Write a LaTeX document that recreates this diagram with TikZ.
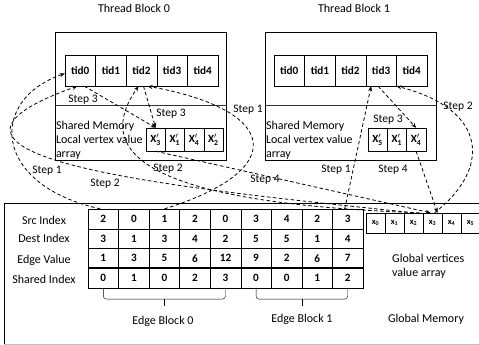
\documentclass[tikz,border=0pt]{standalone}
\usepackage{amsmath}
\usepackage{fontspec}
\setmainfont{Carlito}
\usetikzlibrary{arrows.meta,positioning,calc}

\newcommand{\lv}[1]{$\textbf{X}^{\prime}_{\textbf{#1}}$}

\begin{document}
\begin{tikzpicture}[x=1pt,y=-1pt,
    cell/.style={draw,minimum width=30.6pt,minimum height=31pt,inner sep=0pt,font=\fontsize{11.2}{13}\selectfont\bfseries},
    ecell/.style={draw,minimum width=30.55pt,minimum height=19.7pt,inner sep=0pt,font=\fontsize{11.2}{13}\selectfont\bfseries},
    vcell/.style={draw,minimum width=19.25pt,minimum height=23pt,inner sep=0pt,font=\fontsize{11}{13}\selectfont},
    gcell/.style={draw,minimum width=19pt,minimum height=20pt,inner sep=0pt,font=\fontsize{8.5}{9}\selectfont},
    lbl/.style={font=\fontsize{12}{14}\selectfont,inner sep=1pt},
    steplbl/.style={font=\fontsize{11.5}{13}\selectfont,inner sep=1pt},
    flow/.style={dash pattern=on 3.5pt off 2.5pt,line width=0.8pt,-{Stealth[length=5pt,width=4pt]}}]
    \useasboundingbox (0,0) rectangle (479,345);
    \draw (4,344) -- (4,203) -- (490,203);
    \draw[black!25] (4,344) -- (490,344);
    \node[draw,minimum width=171pt,minimum height=128pt] (blk0) at (140.5,96) {};
    \node[draw,minimum width=171pt,minimum height=128pt] (blk1) at (350.5,96) {};
    \draw[line width=1pt,black!80] (blk0.west |- 0,105) -- (blk0.east |- 0,105);
    \draw[line width=1pt,black!80] (blk1.west |- 0,105) -- (blk1.east |- 0,105);
    \node[lbl] (tbl0) at (134,8) {Thread Block 0};
    \node[lbl] (tbl1) at (354,8) {Thread Block 1};
    \foreach \i in {0,...,4}
    {
      \node[cell] (ta\i) at (80.3+30.6*\i,70.5) {tid\i};
      \node[cell] (tb\i) at (289.3+30.6*\i,70.5) {tid\i};
    }
    \foreach \v [count=\i from 0] in {3,1,4,2}
    {
      \node[vcell] (la\i) at (155.6+19.25*\i,139.5) {\lv{\v}};
    }
    \foreach \v [count=\i from 0] in {5,1,4}
    {
      \node[vcell] (lb\i) at (377.6+19.25*\i,139.5) {\lv{\v}};
    }
    \node[lbl,align=left,anchor=west] (sm0) at (blk0.west |- 0,140) {Shared Memory\\Local vertex value\\array};
    \node[lbl,align=left,anchor=west] (sm1) at (blk1.west |- 0,140) {Shared Memory\\Local vertex value\\array};
    \foreach \r/\vals in {0/{2,0,1,2,0,3,4,2,3},1/{3,1,3,4,2,5,5,1,4},2/{1,3,5,6,12,9,2,6,7},3/{0,1,0,2,3,0,0,1,2}}
    {
      \foreach \v [count=\c from 0] in \vals
      {
        \node[ecell] (e\r-\c) at (103.3+30.55*\c,218.9+19.7*\r) {\v};
      }
    }
    \draw[line width=1.2pt] (e3-0.north west) -- (e3-8.north east);
    \node[lbl] (rl0) at (44,220.5) {Src Index};
    \node[lbl] (rl1) at (44,238.5) {Dest Index};
    \node[lbl] (rl2) at (44,260) {Edge Value};
    \node[lbl] (rl3) at (44,279.5) {Shared Index};
    \foreach \i in {0,...,5}
    {
      \node[gcell] (g\i) at (375.5+19*\i,223) {\textbf{x}\textsubscript{\textbf{\i}}};
    }
    \draw[rounded corners=3pt] (e3-0.south) -- ++(0,11) -| (e3-4.south);
    \draw ($(e3-0.south)!0.5!(e3-4.south)+(0,11)$) -- ++(0,7);
    \draw[rounded corners=3pt] (e3-5.south) -- ++(0,11) -| (e3-8.south);
    \draw ($(e3-5.south)!0.5!(e3-8.south)+(0,11)$) -- ++(0,7);
    \node[lbl] (eb0) at (163,321) {Edge Block 0};
    \node[lbl] (eb1) at (302,319) {Edge Block 1};
    \node[lbl,align=left,anchor=west] (gv) at (391,266) {Global vertices\\value array};
    \node[lbl] (gm) at (426,319) {Global Memory};
    \draw[flow] ([xshift=-3pt]e0-0.north) .. controls (-8,185) and (-12,100) .. ([yshift=-3pt]ta0.west);
    \draw[flow] (g2.north) .. controls (200,190) and (-130,160) .. ([xshift=-3pt]ta0.south);
    \draw[flow] ([xshift=4pt]ta0.south) -- (la0.north);
    \draw[flow] (e0-2.north) .. controls (290,170) and (280,110) .. ([xshift=6pt]ta2.south);
    \draw[flow] ([xshift=6pt]g2.north) .. controls (200,205) and (80,170) .. ([xshift=-3pt]ta2.south);
    \draw[flow] ([xshift=2pt]ta2.south) -- (la0.north);
    \draw[flow] (la0.south) -- ([xshift=-2pt]g3.north);
    \draw[flow] ([xshift=-3pt]e0-8.north) -- ([xshift=-10pt]tb3.south);
    \draw[flow] ([xshift=2pt]g3.north) .. controls (490,170) and (490,110) .. (tb3.south east);
    \draw[flow] ([xshift=-3pt]tb3.south) -- (lb2.north);
    \draw[flow] (lb2.south) -- ([xshift=5pt]g3.north);
    \node[steplbl] (s1a) at (47,171) {Step 1};
    \node[steplbl] (s2a) at (105,184) {Step 2};
    \node[steplbl] (s3a) at (83,100) {Step 3};
    \node[steplbl] (s3b) at (171,114) {Step 3};
    \node[steplbl] (s1b) at (248,110) {Step 1};
    \node[steplbl] (s2b) at (168,169) {Step 2};
    \node[steplbl] (s4a) at (265,180) {Step 4};
    \node[steplbl] (s1c) at (336,170) {Step 1};
    \node[steplbl] (s4b) at (393,170) {Step 4};
    \node[steplbl] (s3c) at (388,120) {Step 3};
    \node[steplbl] (s2c) at (458,107) {Step 2};
  \end{tikzpicture}
\end{document}
